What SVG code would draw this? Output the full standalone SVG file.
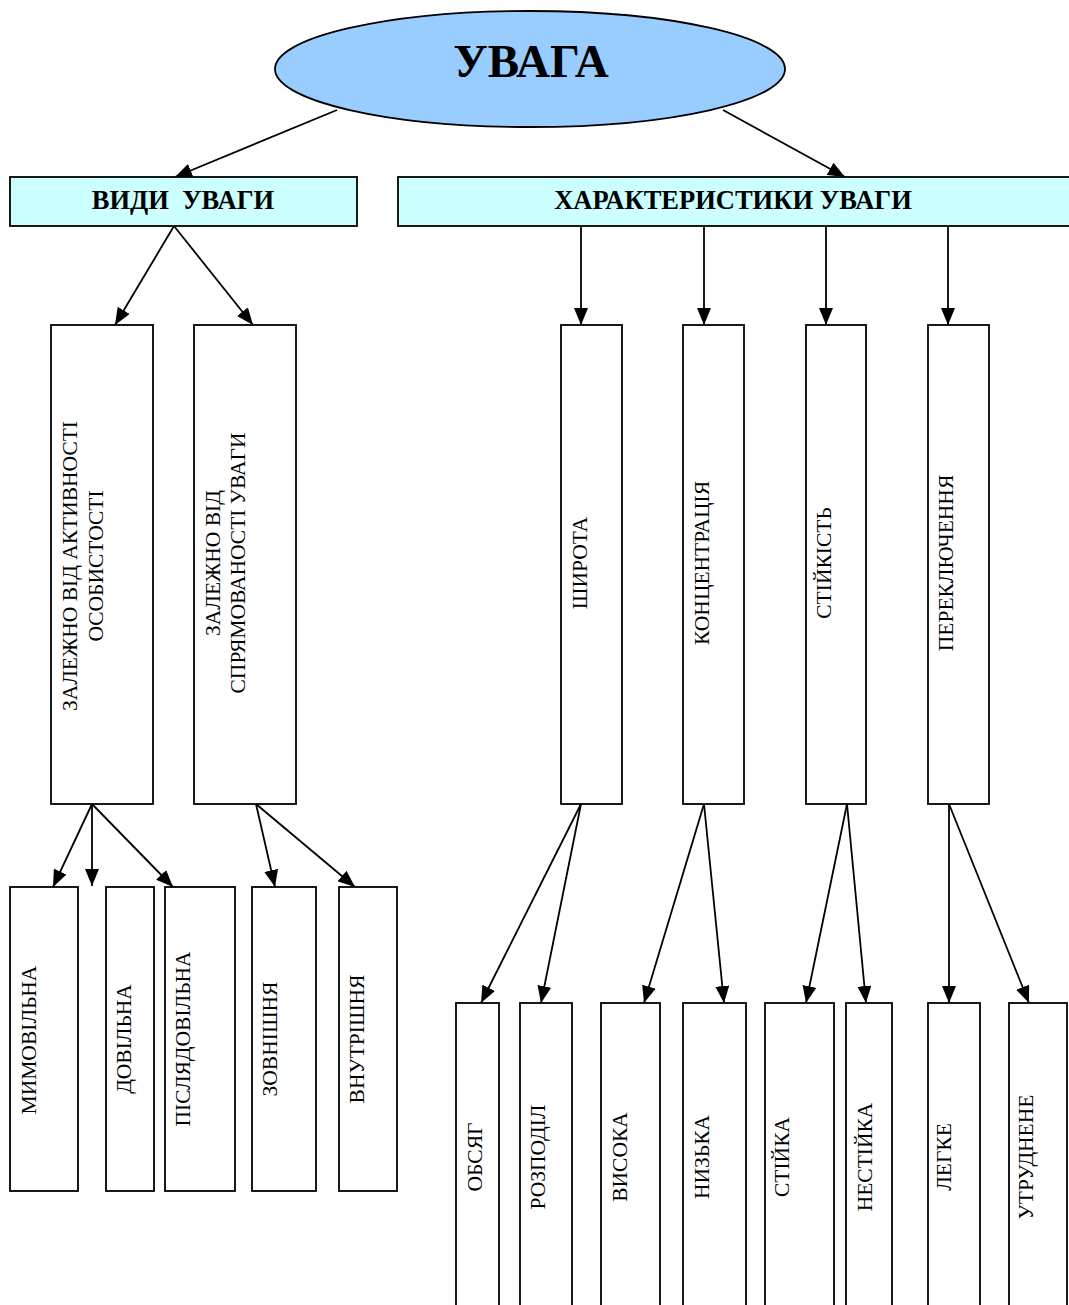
<svg xmlns="http://www.w3.org/2000/svg" width="1069" height="1305" viewBox="0 0 1069 1305">
<defs>
<marker id="ah" markerUnits="userSpaceOnUse" markerWidth="17" markerHeight="14" refX="17" refY="7" orient="auto">
<path d="M0,0 L17,7 L0,14 z" fill="#000"/>
</marker>
<style>
.box{fill:#fff;stroke:#000;stroke-width:1.8}
.hdr{fill:#ccffff;stroke:#000;stroke-width:1.8}
.ln{stroke:#000;stroke-width:1.8;fill:none;marker-end:url(#ah)}
.t{font-family:"Liberation Serif","Times New Roman",serif;font-size:21.5px;fill:#000;text-anchor:middle}
.h{font-family:"Liberation Serif","Times New Roman",serif;font-size:26.5px;font-weight:bold;fill:#000;text-anchor:middle}
</style>
</defs>
<rect width="1069" height="1305" fill="#fff"/>

<g id="connectors">
<line class="ln" x1="337" y1="110" x2="175" y2="177"/>
<line class="ln" x1="723" y1="110" x2="845" y2="177"/>
<line class="ln" x1="174" y1="226" x2="115" y2="325"/>
<line class="ln" x1="174" y1="226" x2="253" y2="325"/>
<line class="ln" x1="581" y1="226" x2="581" y2="325"/>
<line class="ln" x1="704" y1="226" x2="704" y2="325"/>
<line class="ln" x1="826" y1="226" x2="826" y2="325"/>
<line class="ln" x1="948" y1="226" x2="948" y2="325"/>
<line class="ln" x1="92" y1="804" x2="53" y2="887"/>
<line class="ln" x1="92" y1="804" x2="92" y2="886"/>
<line class="ln" x1="92" y1="804" x2="173" y2="887"/>
<line class="ln" x1="256" y1="804" x2="275" y2="887"/>
<line class="ln" x1="256" y1="804" x2="355" y2="887"/>
<line class="ln" x1="581" y1="804" x2="481" y2="1003"/>
<line class="ln" x1="581" y1="804" x2="541" y2="1003"/>
<line class="ln" x1="704" y1="804" x2="644" y2="1003"/>
<line class="ln" x1="704" y1="804" x2="724" y2="1003"/>
<line class="ln" x1="847" y1="804" x2="806" y2="1003"/>
<line class="ln" x1="847" y1="804" x2="866" y2="1003"/>
<line class="ln" x1="949" y1="804" x2="949" y2="1003"/>
<line class="ln" x1="949" y1="804" x2="1029" y2="1003"/>
</g>

<g id="uvaga">
<ellipse cx="530" cy="69" rx="255" ry="58" fill="#99ccff" stroke="#000" stroke-width="1.8"/>
<text x="531" y="77" font-family="Liberation Serif, Times New Roman, serif" font-size="47" font-weight="bold" text-anchor="middle">УВАГА</text>
</g>

<g id="vydy">
<rect class="hdr" x="10" y="177" width="347" height="49"/>
<text class="h" x="183" y="209" xml:space="preserve">ВИДИ  УВАГИ</text>
</g>
<g id="kharakterystyky">
<rect class="hdr" x="398" y="177" width="680" height="49"/>
<text class="h" x="733" y="209">ХАРАКТЕРИСТИКИ УВАГИ</text>
</g>

<g id="aktyvnist">
<rect class="box" x="51" y="325" width="102" height="479"/>
<text class="t" transform="translate(77,566) rotate(-90)">ЗАЛЕЖНО ВІД АКТИВНОСТІ</text>
<text class="t" transform="translate(103,566) rotate(-90)">ОСОБИСТОСТІ</text>
</g>
<g id="spriamovanist">
<rect class="box" x="194" y="325" width="102" height="479"/>
<text class="t" transform="translate(220,563) rotate(-90)">ЗАЛЕЖНО ВІД</text>
<text class="t" transform="translate(245,563) rotate(-90)">СПРЯМОВАНОСТІ УВАГИ</text>
</g>

<g id="shyrota">
<rect class="box" x="561" y="325" width="61" height="479"/>
<text class="t" transform="translate(587,563) rotate(-90)">ШИРОТА</text>
</g>
<g id="kontsentratsiia">
<rect class="box" x="683" y="325" width="61" height="479"/>
<text class="t" transform="translate(709,563) rotate(-90)">КОНЦЕНТРАЦІЯ</text>
</g>
<g id="stiikist">
<rect class="box" x="806" y="325" width="60" height="479"/>
<text class="t" transform="translate(831,563) rotate(-90)">СТІЙКІСТЬ</text>
</g>
<g id="perekliuchennia">
<rect class="box" x="928" y="325" width="61" height="479"/>
<text class="t" transform="translate(953,563) rotate(-90)">ПЕРЕКЛЮЧЕННЯ</text>
</g>

<g id="mymovilna">
<rect class="box" x="10" y="887" width="68" height="304"/>
<text class="t" transform="translate(36,1040) rotate(-90)">МИМОВІЛЬНА</text>
</g>
<g id="dovilna">
<rect class="box" x="106" y="887" width="48" height="304"/>
<text class="t" transform="translate(131,1039) rotate(-90)">ДОВІЛЬНА</text>
</g>
<g id="pisliadovilna">
<rect class="box" x="165" y="887" width="70" height="304"/>
<text class="t" transform="translate(190,1039) rotate(-90)">ПІСЛЯДОВІЛЬНА</text>
</g>
<g id="zovnishnia">
<rect class="box" x="252" y="887" width="64" height="304"/>
<text class="t" transform="translate(277,1039) rotate(-90)">ЗОВНІШНЯ</text>
</g>
<g id="vnutrishnia">
<rect class="box" x="339" y="887" width="58" height="304"/>
<text class="t" transform="translate(364,1039) rotate(-90)">ВНУТРІШНЯ</text>
</g>

<g id="obsiah">
<rect class="box" x="456" y="1003" width="43" height="310"/>
<text class="t" transform="translate(482,1157) rotate(-90)">ОБСЯГ</text>
</g>
<g id="rozpodil">
<rect class="box" x="520" y="1003" width="52" height="310"/>
<text class="t" transform="translate(545,1157) rotate(-90)">РОЗПОДІЛ</text>
</g>
<g id="vysoka">
<rect class="box" x="601" y="1003" width="59" height="310"/>
<text class="t" transform="translate(627,1157) rotate(-90)">ВИСОКА</text>
</g>
<g id="nyzka">
<rect class="box" x="683" y="1003" width="63" height="310"/>
<text class="t" transform="translate(709,1157) rotate(-90)">НИЗЬКА</text>
</g>
<g id="stiika">
<rect class="box" x="765" y="1003" width="69" height="310"/>
<text class="t" transform="translate(789,1157) rotate(-90)">СТІЙКА</text>
</g>
<g id="nestiika">
<rect class="box" x="846" y="1003" width="46" height="310"/>
<text class="t" transform="translate(872,1157) rotate(-90)">НЕСТІЙКА</text>
</g>
<g id="lehke">
<rect class="box" x="928" y="1003" width="52" height="310"/>
<text class="t" transform="translate(951,1157) rotate(-90)">ЛЕГКЕ</text>
</g>
<g id="utrudnene">
<rect class="box" x="1009" y="1003" width="58" height="310"/>
<text class="t" transform="translate(1033,1157) rotate(-90)">УТРУДНЕНЕ</text>
</g>
</svg>
